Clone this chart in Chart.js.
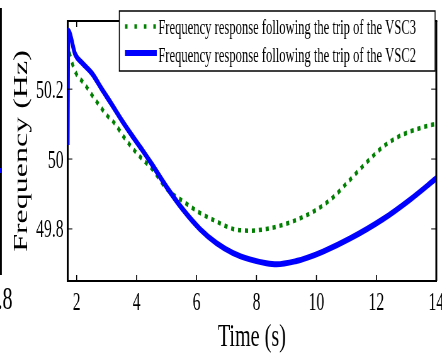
<!DOCTYPE html>
<html>
<head>
<meta charset="utf-8">
<script src="https://cdn.jsdelivr.net/npm/chart.js@4.4.1/dist/chart.umd.min.js"></script>
<style>
  html, body { margin: 0; padding: 0; background: #fff; overflow: hidden; }
  /* the source figure is squeezed horizontally, so the whole drawing is too */
  #page { position: absolute; left: 0; top: 0; width: 702px; height: 355px; transform: scaleX(0.6296); transform-origin: 0 0; }
  #wrap { position: absolute; left: 0; top: 0; width: 702px; height: 355px; }
  .edge { position: absolute; left: 0; top: 8px; width: 3px; height: 267px; background: #000; }
  .edgeBlue { position: absolute; left: 0; top: 168px; width: 3px; height: 5px; background: #00f; }
  .edgeLabel { position: absolute; left: -4px; top: 282px; font: 32px/32px 'Liberation Serif', serif; color: #000; }
</style>
</head>
<body>
<div id="page">
  <div class="edge"></div>
  <div class="edgeBlue"></div>
  <div class="edgeLabel">.8</div>
  <div id="wrap"><canvas id="chart"></canvas></div>
</div>
<script>
// values
const timeGreen = [1.75, 1.87, 2.01, 2.18, 2.34, 2.51, 2.71, 2.90, 3.07, 3.25, 3.59, 3.79, 3.98, 4.23, 4.45, 4.61, 5.0, 5.55, 6.11, 6.67, 7.22, 7.78, 8.33, 8.89, 9.39, 10.0, 10.55, 11.11, 11.67, 12.22, 12.78, 13.33, 13.89, 14.0];
const freqGreen = [50.306, 50.269, 50.24, 50.223, 50.205, 50.183, 50.159, 50.137, 50.119, 50.104, 50.061, 50.039, 50.019, 49.996, 49.978, 49.961, 49.915, 49.879, 49.846, 49.821, 49.80, 49.795, 49.80, 49.812, 49.828, 49.855, 49.89, 49.94, 49.99, 50.035, 50.066, 50.085, 50.099, 50.101];

const timeBlue = [1.70, 1.72, 1.95, 2.18, 2.51, 2.84, 3.18, 3.51, 3.84, 4.18, 4.51, 5.0, 5.55, 6.11, 6.67, 7.22, 7.78, 8.33, 8.67, 9.33, 9.68, 10.22, 11.11, 12.22, 13.11, 14.0];
const freqBlue = [50.04, 50.367, 50.30, 50.275, 50.245, 50.2, 50.155, 50.11, 50.068, 50.027, 49.985, 49.92, 49.855, 49.80, 49.759, 49.731, 49.713, 49.702, 49.699, 49.708, 49.717, 49.735, 49.772, 49.828, 49.883, 49.945];

const xTicks = [2, 4, 6, 8, 10, 12, 14];
const yTicks = [49.8, 50, 50.2];

const labelGreen = 'Frequency response following the trip of the VSC3';
const labelBlue = 'Frequency response following the trip of the VSC2';

const serif = "'Liberation Serif', 'Times New Roman', serif";

const toPoints = (xs, ys) => xs.map((v, i) => ({ x: v, y: ys[i] }));

// box around the plot, inward ticks and the legend box inside the axes
const frameAndLegend = {
  id: 'frameAndLegend',
  afterDatasetsDraw(chart) {
    const { ctx, chartArea: a, scales: { x, y } } = chart;
    ctx.save();
    ctx.strokeStyle = '#000';
    ctx.lineWidth = 2;
    ctx.beginPath(); ctx.moveTo(a.left, a.top); ctx.lineTo(a.right + 1.5, a.top); ctx.stroke();
    ctx.lineWidth = 3;
    ctx.beginPath(); ctx.moveTo(a.right, a.top); ctx.lineTo(a.right, a.bottom); ctx.stroke();

    ctx.lineWidth = 1.6;
    x.ticks.forEach(t => {
      const px = x.getPixelForValue(t.value);
      ctx.beginPath();
      ctx.moveTo(px, a.bottom); ctx.lineTo(px, a.bottom - 6);
      ctx.moveTo(px, a.top); ctx.lineTo(px, a.top + 6);
      ctx.stroke();
    });
    ctx.lineWidth = 1;
    y.ticks.forEach(t => {
      const py = y.getPixelForValue(t.value);
      ctx.beginPath();
      ctx.moveTo(a.left, py); ctx.lineTo(a.left + 8, py);
      ctx.moveTo(a.right, py); ctx.lineTo(a.right - 8, py);
      ctx.stroke();
    });

    // legend
    const box = { left: 189.5, top: 11, right: 691, bottom: 71 };
    ctx.fillStyle = '#fff';
    ctx.fillRect(box.left, box.top, box.right - box.left, box.bottom - box.top);
    ctx.lineWidth = 1.5;
    ctx.strokeRect(box.left, box.top, box.right - box.left, box.bottom - box.top);

    const rows = [
      { ds: chart.data.datasets[0], lineY: 26.5, textY: 29, dash: [4, 11] },
      { ds: chart.data.datasets[1], lineY: 53, textY: 56.5, dash: [] }
    ];
    rows.forEach(r => {
      ctx.strokeStyle = r.ds.borderColor;
      ctx.lineWidth = r.ds.borderWidth;
      ctx.setLineDash(r.dash);
      ctx.beginPath(); ctx.moveTo(198.5, r.lineY); ctx.lineTo(249, r.lineY); ctx.stroke();
      ctx.setLineDash([]);
      ctx.fillStyle = '#000';
      ctx.font = '20px ' + serif;
      ctx.textAlign = 'left';
      ctx.textBaseline = 'middle';
      ctx.fillText(r.ds.label, 251.4, r.textY);
    });
    ctx.restore();
  }
};

new Chart(document.getElementById('chart'), {
  type: 'line',
  data: {
    datasets: [
      {
        label: labelGreen,
        data: toPoints(timeGreen, freqGreen),
        borderColor: 'rgb(0, 128, 0)',
        borderWidth: 4.5,
        borderDash: [5, 6],
        pointRadius: 0,
        cubicInterpolationMode: 'monotone',
        order: 1
      },
      {
        label: labelBlue,
        data: toPoints(timeBlue, freqBlue),
        borderColor: 'rgb(0, 0, 255)',
        borderWidth: 6,
        pointRadius: 0,
        cubicInterpolationMode: 'monotone',
        order: 0
      }
    ]
  },
  options: {
    responsive: true,
    maintainAspectRatio: false,
    animation: false,
    layout: { padding: { top: 11, right: 9, bottom: 0, left: 0 } },
    plugins: { legend: { display: false }, tooltip: { enabled: false } },
    scales: {
      x: {
        type: 'linear',
        min: 1.69,
        max: 14,
        afterBuildTicks: s => { s.ticks = xTicks.map(v => ({ value: v })); },
        afterFit: s => { s.height = 74; s.paddingLeft = 0; s.paddingRight = 0; },
        grid: { display: false, drawTicks: false },
        border: { display: true, color: '#000', width: 2 },
        ticks: {
          color: '#000',
          font: { family: serif, size: 25 },
          padding: 7,
          maxRotation: 0,
          autoSkip: false,
          callback: v => String(v)
        },
        title: {
          display: true,
          text: 'Time (s)',
          color: '#000',
          font: { family: serif, size: 32, lineHeight: 1 },
          padding: { top: 0, bottom: 1.5 }
        }
      },
      y: {
        min: 49.651,
        max: 50.395,
        afterBuildTicks: s => { s.ticks = yTicks.map(v => ({ value: v })); },
        afterFit: s => { s.width = 107; },
        grid: { display: false, drawTicks: false },
        border: { display: true, color: '#000', width: 3 },
        ticks: {
          color: '#000',
          font: { family: serif, size: 25 },
          padding: 6,
          labelOffset: 2,
          autoSkip: false,
          callback: v => String(v)
        },
        title: {
          display: true,
          text: 'Frequency (Hz)',
          color: '#000',
          font: { family: serif, size: 32, lineHeight: 1 },
          padding: { top: 19, bottom: 0 }
        }
      }
    }
  },
  plugins: [frameAndLegend]
});
</script>
</body>
</html>
